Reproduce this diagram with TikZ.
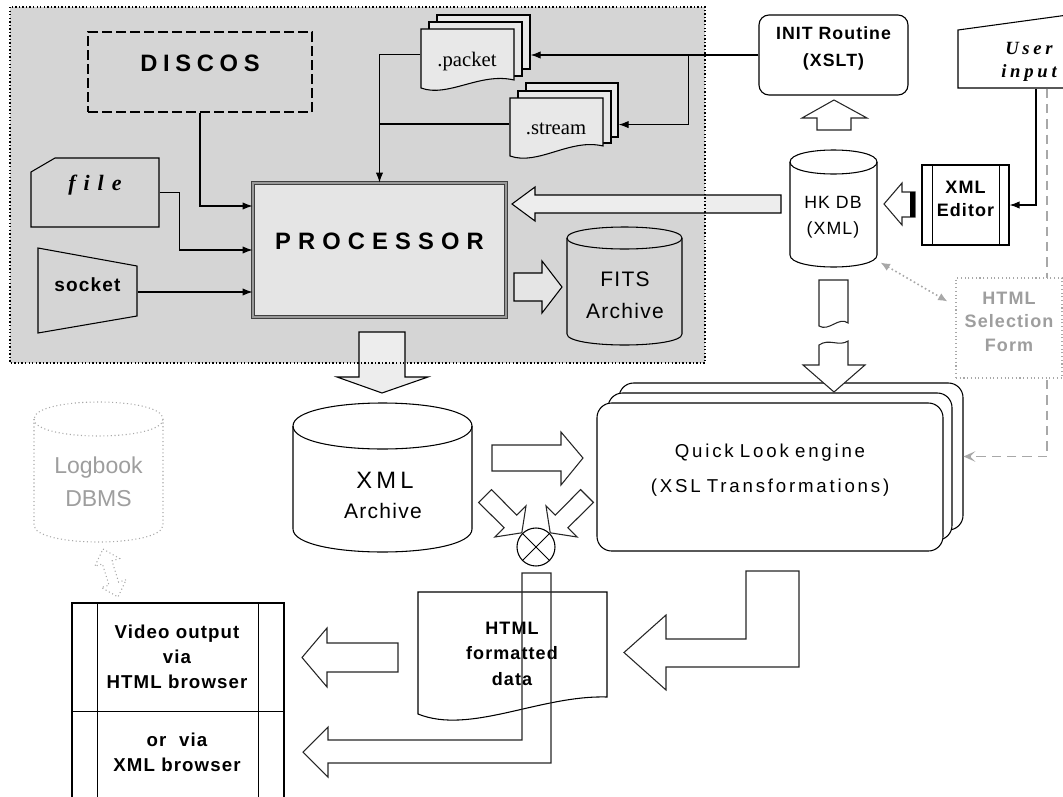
\documentclass[tikz,border=0pt]{standalone}
\usepackage{fontspec}
\setmainfont{Liberation Sans}
\newfontfamily\lblfont[LetterSpace=6]{Liberation Sans}
\newfontfamily\qlfont[LetterSpace=15,WordSpace=2]{Liberation Sans}
\newfontfamily\discosfont[LetterSpace=24]{Liberation Sans}
\newfontfamily\procfont[LetterSpace=30]{Liberation Sans}
\newfontfamily\xmlfont[LetterSpace=18]{Liberation Sans}
\newfontfamily\filefont[LetterSpace=36]{Liberation Serif}
\newfontfamily\userfont[LetterSpace=20]{Liberation Serif}
\newfontfamily\docfont{Liberation Serif}
\usetikzlibrary{arrows.meta,fit,calc}

\definecolor{regiongray}{gray}{0.835}
\definecolor{proclight}{gray}{0.9}
\definecolor{doclight}{gray}{0.91}
\definecolor{arrowlight}{gray}{0.93}
\definecolor{faint}{gray}{0.62}
\definecolor{faintline}{gray}{0.66}

\newcommand\fsz[2]{\fontsize{#1}{#2}\selectfont}

% database cylinder: x1, top, x2, bottom, y-radius, style
\newcommand\dbcyl[6]{%
  \draw[#6] (#1,{#2+#5}) -- (#1,{#4-#5})
    .. controls (#1,{#4+#5/3}) and (#3,{#4+#5/3}) .. (#3,{#4-#5})
    -- (#3,{#2+#5})
    .. controls (#3,{#2-#5/3}) and (#1,{#2-#5/3}) .. (#1,{#2+#5}) -- cycle;
  \draw[#6,fill=none] (#1,{#2+#5})
    .. controls (#1,{#2+7*#5/3}) and (#3,{#2+7*#5/3}) .. (#3,{#2+#5});}

\begin{document}
\begin{tikzpicture}[x=0.75pt,y=-0.75pt,line width=0.85pt,line join=miter,
  every node/.style={inner sep=0pt},
  arr/.style={-{Latex[length=7.5pt,width=5.5pt]}},
  blk/.style={draw=black!85,line width=0.8pt,fill=white},
  boldlbl/.style={align=center,font=\lblfont\bfseries\fsz{13.5}{17.6}},
]
\useasboundingbox (0,0) rectangle (1063,796);
\clip (0,0) rectangle (1063,796);

% ---------- acquisition area ----------
\fill[regiongray] (10,7) rectangle (705,363);

\node[draw, dash pattern=on 7.5pt off 3pt, line width=0.8pt,
      fit={(88,32) (312,112)}, font=\discosfont\bfseries\fsz{17.8}{20}] (discos) {DISCOS};

% file source
\draw[fill=regiongray, line width=0.8pt] (31,172) -- (55,158) -- (159,158) -- (159,227) -- (31,227) -- cycle;
\node[fit={(31,158) (159,227)}, font=\filefont\bfseries\itshape\fsz{16.5}{18}] (file) {file};

% socket source
\draw[fill=regiongray, line width=0.8pt] (38,248) -- (137,266) -- (137,316) -- (38,333) -- cycle;
\node[fit={(38,252) (137,332)}, font=\lblfont\bfseries\fsz{14.3}{17}] (socket) {socket};

% processor
\node[draw=black!75, double=black!40, double distance=1.2pt, line width=0.6pt,
      fill=proclight, fit={(253,183) (506,317)},
      font=\procfont\bfseries\fsz{17.8}{20}] (proc) {PROCESSOR};

% .packet stack
\draw[fill=doclight, line width=0.8pt] (437,15) rectangle (530,69);
\draw[fill=doclight, line width=0.8pt] (429,22) rectangle (522,76);
\draw[fill=doclight, line width=0.8pt] (421,29) -- (514,29) -- (514,80)
   .. controls (480,72) and (448,98) .. (421,88) -- cycle;
\node[fit={(437,15) (530,69)}] (packetB) {};
\node[fit={(421,29) (514,80)}] (packetF) {};
\node[font=\docfont\fsz{15.5}{18}] (packetT) at (467,61.5) {.packet};

% .stream stack
\draw[fill=doclight, line width=0.8pt] (526,83) rectangle (618,137);
\draw[fill=doclight, line width=0.8pt] (518,91) rectangle (611,143);
\draw[fill=doclight, line width=0.8pt] (510,98) -- (603,98) -- (603,146)
   .. controls (570,138) and (538,166) .. (510,156) -- cycle;
\node[fit={(526,83) (618,137)}] (streamB) {};
\node[fit={(510,98) (603,150)}] (streamF) {};
\node[font=\docfont\fsz{15.5}{18}] (streamT) at (556,128.5) {.stream};

% inputs into the processor
\draw[arr] (discos.south) |- ($(proc.west)+(0,-44)$);
\draw[arr] (file.east) -- ++(20,0) |- (proc.west);
\draw[arr] (socket.east) -- (socket.east -| proc.west);
\draw[arr] (packetF.west) -| (proc.north);
\draw (streamF.west) -- (streamF.west -| proc.north);

% INIT routine
\node[draw, fill=white, rounded corners=7.5pt, fit={(759,15) (908,95)},
      align=center, font=\lblfont\bfseries\fsz{13.3}{20.25}] (init) {INIT Routine\\(XSLT)};
\draw[arr] (init.west) -- (init.west -| packetB.east);
\coordinate (split) at ($(init.west)+(-70,0)$);
\draw[arr] (split) |- ($(streamB.south east)+(0,-13)$);

% HK DB -> processor
\draw[fill=arrowlight, line width=0.8pt] (781,195) -- (535,195) -- (535,187) -- (512,204)
   -- (535,221) -- (535,213) -- (781,213) -- cycle;

% processor -> FITS
\draw[fill=proclight, line width=0.8pt] (514,273) -- (542,273) -- (542,261) -- (562,287)
   -- (542,313) -- (542,301) -- (514,301) -- cycle;
\dbcyl{567}{227}{682}{345}{11}{fill=regiongray,line width=0.8pt}
\node[fit={(567,227) (682,345)}] (fits) {};
\node[align=center, font=\lblfont\fsz{15.75}{24}] (fitsT) at (625,295.5) {FITS\\Archive};

% processor -> XML archive
\draw[fill=arrowlight, line width=0.8pt] (359,332) -- (405,332) -- (405,377) -- (428,377)
   -- (382,393) -- (337,377) -- (359,377) -- cycle;

\draw[line width=1.05pt, dash pattern=on 1.05pt off 1.6pt] (10,7) rectangle (705,363);

% ---------- housekeeping side ----------
\dbcyl{790}{150}{877}{267}{12}{fill=white,line width=0.8pt}
\node[fit={(790,150) (877,267)}] (hkdb) {};
\node[align=center, font=\lblfont\fsz{13.3}{19.5}] (hkdbT) at (833,217.7) {HK DB\\(XML)};

\draw[blk] (817,130) -- (817,118) -- (802,118) -- (834,100) -- (867,118) -- (851,118) -- (851,130) -- cycle;

\node[draw, fill=white, line width=0.8pt, fit={(922,165) (1009,245)}, boldlbl] (editor) {XML\\Editor};
\draw[line width=0.8pt] ($(editor.north west)+(11,0)$) -- ($(editor.south west)+(11,0)$)
      ($(editor.north east)+(-10,0)$) -- ($(editor.south east)+(-10,0)$);
\draw[blk] (915,192) -- (902,192) -- (902,183) -- (884,204) -- (902,225) -- (902,217) -- (915,217) -- cycle;
\fill (910,192) rectangle (915,217);

\draw[fill=white, line width=0.8pt] (958,30) -- (1075,14) -- (1075,88) -- (958,88) -- cycle;
\node[fit={(958,30) (1063,88)}] (userin) {};
\node[align=center, font=\userfont\bfseries\itshape\fsz{14}{17}] (userT) at (1029,62) {User\\input};
\draw[arr] ($(userin.south)+(25.5,0)$) |- (editor.east);

% Quick Look engine (stacked)
\node[draw, fill=white, line width=0.8pt, rounded corners=11pt, fit={(619,383) (963,530)}] (qlB) {};
\node[draw, fill=white, line width=0.8pt, rounded corners=11pt, fit={(608,393) (952,540)}] (qlM) {};
\node[draw, fill=white, line width=0.8pt, rounded corners=11pt, fit={(597,403) (943,551)},
      align=center, font=\qlfont\fsz{14}{26.6}] (ql) {Quick Look engine\\(XSL Transformations)};

\draw[faintline, line width=1pt, dash pattern=on 7pt off 4.5pt,
      -{Stealth[length=9pt,width=8pt,inset=4pt]}]
      ($(userin.south)+(36.5,0)$) |- (qlB.east);

\node[draw=faintline, dotted, line width=0.8pt, fill=white, fit={(956,278) (1062,378)},
      boldlbl, text=faint, font=\lblfont\bfseries\fsz{13.5}{17.5}] (form) {HTML\\Selection\\Form};
\draw[faintline, dotted, line width=1.2pt,
      {Latex[length=7pt,width=6pt]}-{Latex[length=7pt,width=6pt]}]
      ($(hkdb.south east)+(3,-5)$) -- ($(form.north west)+(-8,24)$);

% HK DB -> Quick Look (broken arrow)
\draw[blk] (819,280) -- (848,280) -- (848,323) .. controls (839,316) and (829,332) .. (819,326) -- cycle;
\draw[blk] (819,345) .. controls (829,338) and (839,347) .. (848,341) -- (848,365) -- (865,365)
   -- (834,392) -- (803,365) -- (819,365) -- cycle;

% ---------- lower part ----------
\dbcyl{293}{403}{472}{552}{23}{fill=white,line width=0.8pt}
\node[fit={(293,403) (472,552)}] (xmlarch) {};
\node[font=\xmlfont\fsz{17.8}{20}] (xmlarchT) at (385,480) {XML};
\node[font=\lblfont\fsz{15.75}{20}] (xmlarchU) at (383,510.5) {Archive};

\draw[blk] (492,445) -- (561,445) -- (561,432) -- (583,458) -- (561,485) -- (561,471) -- (492,471) -- cycle;

% merging arrows and combiner
\draw[blk] (491.4,489.6) -- (516.8,515.1) -- (526.0,505.9) -- (521.8,532.8)
   -- (494.9,537.0) -- (504.1,527.8) -- (478.6,502.4) -- cycle;
\draw[blk] (580.6,489.6) -- (555.2,515.1) -- (546.0,505.9) -- (550.2,532.8)
   -- (577.1,537.0) -- (567.9,527.8) -- (593.4,502.4) -- cycle;
\node[draw, circle, fill=white, line width=0.8pt, minimum size=28.5pt] (mux) at (536,547) {};
\draw[line width=0.7pt] (mux.45) -- (mux.225) (mux.135) -- (mux.315);

% Logbook DBMS
\dbcyl{34}{402}{163}{542}{17}{draw=faintline,dotted,line width=0.8pt,fill=white}
\node[fit={(34,402) (163,542)}] (logbook) {};
\node[align=center, text=faint, font=\fsz{17.25}{25}] (logbookT) at (98.5,481.7) {Logbook\\DBMS};
\draw[faintline, dotted, line width=0.8pt] (103,549) -- (119.6,558.5) -- (112,560.9) -- (118.6,582.1)
   -- (126.2,579.7) -- (118,597) -- (101.4,587.5) -- (109,585.1) -- (102.4,563.9) -- (94.8,566.3) -- cycle;

% output box
\node[draw, line width=0.8pt, fit={(72,603) (284,800)}] (video) {};
\draw[line width=0.8pt] ($(video.north west)+(26,0)$) -- ($(video.south west)+(26,0)$)
      ($(video.north east)+(-26,0)$) -- ($(video.south east)+(-26,0)$)
      ($(video.north west)+(0,109)$) -- ($(video.north east)+(0,109)$);
\node[align=center, font=\lblfont\bfseries\fsz{14}{18.75}] (videoA) at (177,656.5)
      {Video output\\via\\HTML browser};
\node[align=center, font=\lblfont\bfseries\fsz{14}{18.75}] (videoB) at (177,752.5)
      {or\ \ via\\XML browser};

% HTML formatted data
\draw[fill=white, line width=0.8pt] (418,592) -- (607,592) -- (607,697)
   .. controls (540,695) and (470,735) .. (418,714) -- cycle;
\node[fit={(418,592) (607,714)}] (htmldoc) {};
\node[align=center, font=\lblfont\bfseries\fsz{13.5}{19.1}] (htmldocT) at (512,653.5)
      {HTML\\formatted\\data};

% combiner -> output (bent arrow, drawn through the document)
\draw[draw=black!85, line width=0.8pt] (522,573) -- (551,573) -- (551,763) -- (328,763) -- (328,777)
   -- (303,752) -- (328,727) -- (328,740) -- (522,740) -- cycle;

% document -> output
\draw[blk] (398,643) -- (327,643) -- (327,628) -- (302,657.5) -- (327,687) -- (327,672) -- (398,672) -- cycle;

% Quick Look -> document
\draw[blk] (746,571) -- (799,571) -- (799,667) -- (666,667) -- (666,690) -- (624,652.5)
   -- (666,615) -- (666,639) -- (746,639) -- cycle;

\end{tikzpicture}
\end{document}
